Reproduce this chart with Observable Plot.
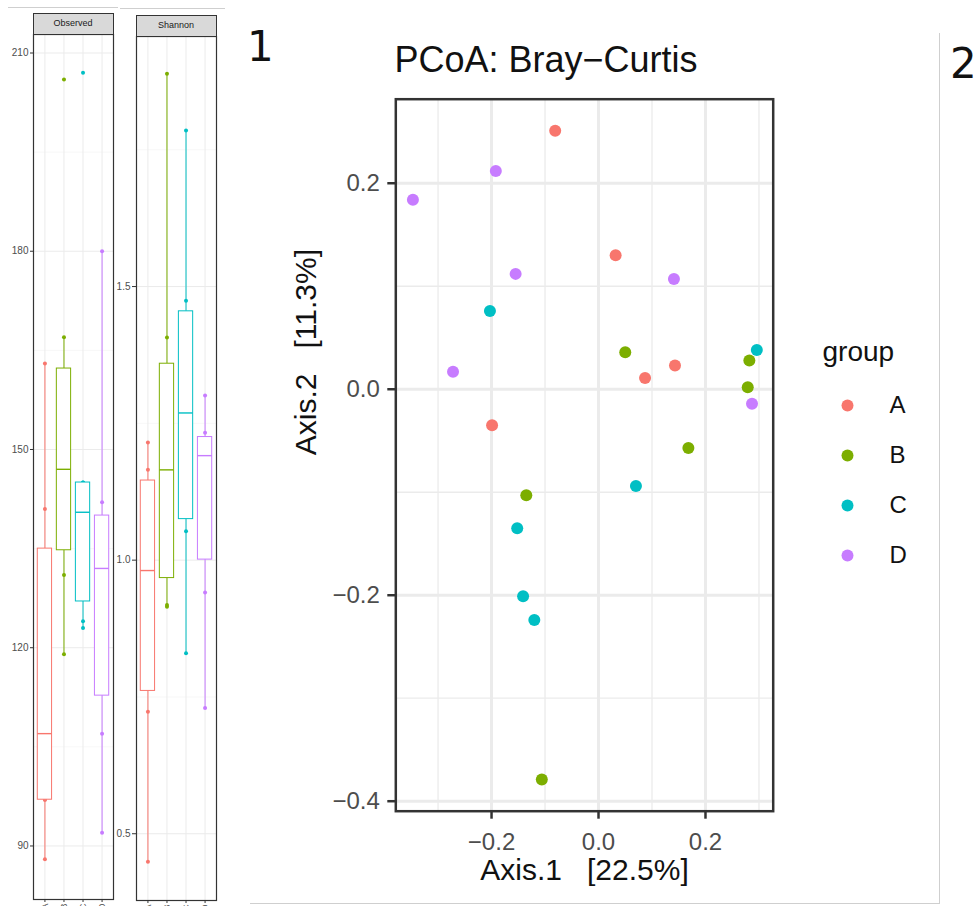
<!DOCTYPE html>
<html>
<head>
<meta charset="utf-8">
<script src="https://cdn.jsdelivr.net/npm/d3@7"></script>
<script src="https://cdn.jsdelivr.net/npm/@observablehq/plot@0.6"></script>
<style>
  html, body { margin: 0; padding: 0; background: #fff; width: 976px; height: 906px; overflow: hidden; }
  body { position: relative; font-family: "Liberation Sans", Arial, sans-serif; }
  .abs { position: absolute; }
  .strip { position: absolute; box-sizing: border-box; border: 1px solid #333; background: #d9d9d9;
           font-size: 9px; color: #1a1a1a; text-align: center; line-height: 19px; }
  .hline { position: absolute; height: 0; border-top: 1px solid #cfcfcf; }
  .vline { position: absolute; width: 0; border-left: 1.5px solid #cfcfcf; }
  .num { position: absolute; font-family: "DejaVu Sans", sans-serif; font-size: 42px; line-height: 42px; color: #111; }
  .title { position: absolute; font-size: 36px; line-height: 36px; color: #111; white-space: pre; }
</style>
</head>
<body>
<script>
// ---------------- data ----------------
const groups = ["A", "B", "C", "D"];
const hues = ["#F8766D", "#7CAE00", "#00BFC4", "#C77CFF"];

// Alpha diversity: Observed
const observedA = [88, 97, 97, 117, 141, 163];
const observedB = [119, 131, 146, 148, 167, 206];
const observedC = [123, 124, 136, 145, 145, 207];
const observedD = [92, 107, 130, 134, 142, 180];
const observedTicks = [90, 120, 150, 180, 210];
const observedMinor = [105, 135, 165, 195];

// Alpha diversity: Shannon
const shannonA = [0.449, 0.723, 0.875, 1.087, 1.165, 1.215];
const shannonB = [0.915, 0.918, 1.115, 1.215, 1.407, 1.889];
const shannonC = [0.830, 1.053, 1.141, 1.397, 1.474, 1.785];
const shannonD = [0.730, 0.941, 1.181, 1.201, 1.233, 1.301];
const shannonTicks = [0.5, 1.0, 1.5];
const shannonMinor = [0.75, 1.25, 1.75];

// PCoA (Bray-Curtis)
const pcoaAx = [-0.081, 0.032, 0.087, 0.143, -0.199];
const pcoaAy = [0.251, 0.130, 0.011, 0.023, -0.035];
const pcoaBx = [0.050, 0.282, 0.279, 0.168, -0.135, -0.106];
const pcoaBy = [0.036, 0.028, 0.002, -0.057, -0.103, -0.379];
const pcoaCx = [-0.203, 0.296, 0.070, -0.152, -0.141, -0.120];
const pcoaCy = [0.076, 0.038, -0.094, -0.135, -0.201, -0.224];
const pcoaDx = [-0.192, -0.347, -0.155, 0.141, -0.272, 0.287];
const pcoaDy = [0.212, 0.184, 0.112, 0.107, 0.017, -0.014];
const pcoaXTicks = [-0.2, 0.0, 0.2];
const pcoaXMinor = [-0.3, -0.1, 0.1, 0.3];
const pcoaYTicks = [-0.4, -0.2, 0.0, 0.2];
const pcoaYMinor = [-0.3, -0.1, 0.1];

const titleText = "PCoA: Bray\u2212Curtis";
const xTitle = "Axis.1   [22.5%]";
const yTitle = "Axis.2   [11.3%]";
const legendTitle = "group";

// ---------------- helpers ----------------
function place(node, left, top) {
  const d = document.createElement("div");
  d.className = "abs";
  d.style.left = left + "px";
  d.style.top = top + "px";
  d.appendChild(node);
  document.body.appendChild(d);
  return d;
}
function boxStats(vals, gi) {
  const s = vals.slice().sort(d3.ascending);
  const q1 = d3.quantile(s, 0.25), med = d3.quantile(s, 0.5), q3 = d3.quantile(s, 0.75);
  const iqr = q3 - q1;
  const lo = d3.min(s.filter(v => v >= q1 - 1.5 * iqr));
  const hi = d3.max(s.filter(v => v <= q3 + 1.5 * iqr));
  return {i: gi + 1, group: groups[gi], q1, med, q3, lo, hi};
}

function boxPanel(series, opts) {
  const stats = series.map((v, gi) => boxStats(v, gi));
  const points = series.flatMap((v, gi) => v.map(val => ({i: gi + 1, group: groups[gi], v: val})));
  return Plot.plot({
    width: 120, height: 906,
    marginLeft: 33, marginRight: 7, marginTop: opts.marginTop, marginBottom: opts.marginBottom,
    x: {domain: [0.4, 4.6]},
    y: {domain: opts.yDomain},
    color: {domain: groups, range: hues},
    style: {fontFamily: "Liberation Sans, Arial, sans-serif", background: "transparent", overflow: "visible", maxWidth: "none"},
    marks: [
      Plot.gridY(opts.minor, {stroke: "#f2f2f2", strokeOpacity: 1, strokeWidth: 0.6}),
      Plot.gridY(opts.ticks, {stroke: "#ebebeb", strokeOpacity: 1, strokeWidth: 1}),
      Plot.gridX([1, 2, 3, 4], {stroke: "#ebebeb", strokeOpacity: 1, strokeWidth: 1}),
      Plot.ruleX(stats, {x: "i", y1: "lo", y2: "q1", stroke: "group", strokeWidth: 1}),
      Plot.ruleX(stats, {x: "i", y1: "q3", y2: "hi", stroke: "group", strokeWidth: 1}),
      Plot.dot(points, {x: "i", y: "v", fill: "group", r: 2}),
      Plot.rect(stats, {x1: d => d.i - 0.375, x2: d => d.i + 0.375, y1: "q1", y2: "q3", fill: "white", stroke: "group", strokeWidth: 1}),
      Plot.ruleY(stats, {x1: d => d.i - 0.375, x2: d => d.i + 0.375, y: "med", stroke: "group", strokeWidth: 1.4}),
      Plot.frame({stroke: "#333", strokeWidth: 1.2}),
      Plot.axisY(opts.ticks, {tickSize: opts.tickSize, tickPadding: 2, fontSize: 10, fill: "#4d4d4d", stroke: "#333", tickFormat: opts.format, label: null}),
      Plot.axisX([1, 2, 3, 4], {tickSize: 3, tickPadding: 1, fontSize: 9, fill: "#4d4d4d", stroke: "#333", tickRotate: -90, tickFormat: i => groups[i - 1], label: null})
    ]
  });
}

// ---------------- left panels ----------------
place(boxPanel([observedA, observedB, observedC, observedD], {
  yDomain: [81.9, 212.8], ticks: observedTicks, minor: observedMinor,
  marginTop: 34, marginBottom: 7, tickSize: 3, format: d3.format("d")
}), 0, 0);

place(boxPanel([shannonA, shannonB, shannonC, shannonD], {
  yDomain: [0.378, 1.957], ticks: shannonTicks, minor: shannonMinor,
  marginTop: 36, marginBottom: 6, tickSize: 4, format: d3.format(".1f")
}), 103, 0);

function strip(text, left, top) {
  const d = document.createElement("div");
  d.className = "strip";
  d.style.left = left + "px"; d.style.top = top + "px";
  d.style.width = "81px"; d.style.height = "22px";
  d.textContent = text;
  document.body.appendChild(d);
}
strip("Observed", 32.5, 12.5);
strip("Shannon", 135.5, 14.5);

// ---------------- PCoA ----------------
const pcoa = [
  ...pcoaAx.map((x, k) => ({group: "A", x, y: pcoaAy[k]})),
  ...pcoaBx.map((x, k) => ({group: "B", x, y: pcoaBy[k]})),
  ...pcoaCx.map((x, k) => ({group: "C", x, y: pcoaCy[k]})),
  ...pcoaDx.map((x, k) => ({group: "D", x, y: pcoaDy[k]}))
];

place(Plot.plot({
  width: 500, height: 906,
  marginLeft: 105.3, marginRight: 17.3, marginTop: 98.7, marginBottom: 95.3,
  x: {domain: [-0.379, 0.3266]},
  y: {domain: [-0.4097, 0.2816]},
  color: {domain: groups, range: hues},
  style: {fontFamily: "Liberation Sans, Arial, sans-serif", background: "transparent", overflow: "visible", maxWidth: "none"},
  marks: [
    Plot.gridX(pcoaXMinor, {stroke: "#ebebeb", strokeOpacity: 1, strokeWidth: 1.3}),
    Plot.gridY(pcoaYMinor, {stroke: "#ebebeb", strokeOpacity: 1, strokeWidth: 1.3}),
    Plot.gridX(pcoaXTicks, {stroke: "#ebebeb", strokeOpacity: 1, strokeWidth: 3}),
    Plot.gridY(pcoaYTicks, {stroke: "#ebebeb", strokeOpacity: 1, strokeWidth: 3}),
    Plot.dot(pcoa, {x: "x", y: "y", fill: "group", r: 6}),
    Plot.frame({stroke: "#333", strokeWidth: 2.5}),
    Plot.axisX(pcoaXTicks, {tickSize: 8, tickPadding: 14, fontSize: 24, fill: "#4d4d4d", stroke: "#333", strokeWidth: 2.5, tickFormat: d3.format(".1f"), label: null}),
    Plot.axisY(pcoaYTicks, {tickSize: 8, tickPadding: 8, fontSize: 24, fill: "#4d4d4d", stroke: "#333", strokeWidth: 2.5, tickFormat: d3.format(".1f"), label: null}),
    Plot.text([xTitle], {frameAnchor: "bottom", text: d => d, dy: 69, fontSize: 30, fill: "#111"}),
    Plot.text([yTitle], {frameAnchor: "left", text: d => d, dx: -89, rotate: -90, fontSize: 30, fill: "#111"})
  ]
}), 290, 0);

// title
const t = document.createElement("div");
t.className = "title";
t.style.left = "394.5px"; t.style.top = "41.5px";
t.textContent = titleText;
document.body.appendChild(t);

// ---------------- legend ----------------
place(Plot.plot({
  width: 140, height: 300,
  margin: 0,
  x: {domain: [0, 1], range: [47, 89], axis: null},
  y: {type: "point", domain: groups, range: [105, 255], padding: 0, axis: null},
  color: {domain: groups, range: hues},
  style: {fontFamily: "Liberation Sans, Arial, sans-serif", background: "transparent", overflow: "visible", maxWidth: "none"},
  marks: [
    Plot.dot(groups, {x: () => 0, y: d => d, fill: d => d, r: 6}),
    Plot.text(groups, {x: () => 1, y: d => d, text: d => d, textAnchor: "start", fontSize: 24, fill: "#111"}),
    Plot.text([legendTitle], {frameAnchor: "top-left", text: d => d, dx: 22, dy: 41, textAnchor: "start", fontSize: 28, fill: "#111"})
  ]
}), 800, 300);

// ---------------- composite decorations ----------------
function line(cls, left, top, len) {
  const d = document.createElement("div");
  d.className = cls;
  d.style.left = left + "px"; d.style.top = top + "px";
  if (cls === "hline") d.style.width = len + "px"; else d.style.height = len + "px";
  document.body.appendChild(d);
}
line("hline", 8, 7, 110);
line("hline", 120, 8, 105);
line("vline", 939, 33, 870);
line("hline", 250, 903, 690);

function num(text, left, top) {
  const d = document.createElement("div");
  d.className = "num";
  d.style.left = left + "px"; d.style.top = top + "px";
  d.textContent = text;
  document.body.appendChild(d);
}
num("1", 247, 25.5);
num("2", 950, 42.5);
</script>
</body>
</html>
